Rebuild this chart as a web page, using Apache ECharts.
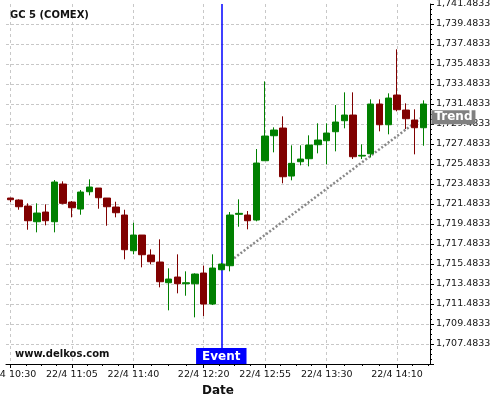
<!DOCTYPE html>
<html>
<head>
<meta charset="utf-8">
<script src="https://cdn.jsdelivr.net/npm/echarts@6/dist/echarts.min.js"></script>
<style>
html,body{margin:0;padding:0;background:#fff;}
#chart{width:500px;height:400px;}
</style>
</head>
<body>
<div id="chart"></div>
<script>
// ---- data ----
const times = [
 '22/4 10:30','22/4 10:35','22/4 10:40','22/4 10:45','22/4 10:50','22/4 10:55',
 '22/4 11:00','22/4 11:05','22/4 11:10','22/4 11:15','22/4 11:20','22/4 11:25',
 '22/4 11:30','22/4 11:35','22/4 11:40','22/4 11:45','22/4 11:50','22/4 11:55',
 '22/4 12:00','22/4 12:05','22/4 12:10','22/4 12:15','22/4 12:20','22/4 12:25',
 '22/4 12:30','22/4 12:35','22/4 12:40','22/4 12:45','22/4 12:50','22/4 12:55',
 '22/4 13:00','22/4 13:05','22/4 13:10','22/4 13:15','22/4 13:20','22/4 13:25',
 '22/4 13:30','22/4 13:35','22/4 13:40','22/4 13:45','22/4 13:50','22/4 13:55',
 '22/4 14:00','22/4 14:05','22/4 14:10','22/4 14:15','22/4 14:20','22/4 14:25'
];
const openV = [1722.08,1721.88,1721.28,1719.71,1720.68,1719.71,1723.48,1721.68,1720.98,1722.71,1723.08,1722.08,
 1721.18,1720.38,1716.81,1718.38,1716.38,1715.68,1713.61,1714.18,1713.51,1713.51,1714.58,1711.48,
 1714.91,1715.31,1720.45,1720.38,1719.88,1725.81,1728.31,1729.08,1724.28,1725.71,1726.01,1727.41,
 1727.81,1728.71,1729.81,1730.38,1726.28,1726.51,1731.48,1729.41,1732.38,1730.88,1729.88,1729.11];
const closeV = [1721.91,1721.21,1719.81,1720.58,1719.81,1723.68,1721.55,1721.11,1722.68,1723.18,1722.11,1721.21,
 1720.61,1716.91,1718.38,1716.41,1715.71,1713.71,1713.98,1713.51,1713.61,1714.48,1711.48,1715.08,
 1715.48,1720.38,1720.55,1719.81,1725.58,1728.28,1728.88,1724.21,1725.55,1725.98,1727.38,1727.88,
 1728.58,1729.68,1730.38,1726.21,1726.35,1731.48,1729.41,1732.08,1730.91,1730.01,1729.11,1731.48];
const lowV = [1721.68,1720.91,1718.91,1718.65,1719.35,1718.65,1721.45,1720.15,1720.41,1722.35,1721.01,1719.31,
 1720.15,1715.95,1716.45,1715.15,1715.45,1713.15,1710.85,1712.55,1712.31,1710.15,1710.28,1711.38,
 1714.85,1714.75,1719.21,1718.95,1719.75,1725.81,1726.65,1723.55,1723.85,1725.35,1725.25,1726.55,
 1725.45,1726.75,1729.05,1725.98,1725.98,1726.15,1728.75,1728.45,1730.75,1728.98,1726.45,1727.31];
const highV = [1722.11,1721.95,1721.55,1721.55,1721.45,1723.88,1723.75,1721.78,1722.88,1723.95,1723.08,1722.08,
 1721.71,1720.91,1719.61,1718.38,1716.95,1717.95,1715.05,1716.45,1714.75,1714.55,1715.33,1716.45,
 1715.60,1720.68,1721.95,1720.78,1726.98,1733.75,1729.15,1730.25,1727.35,1727.35,1728.35,1729.55,
 1729.55,1731.38,1732.65,1732.65,1727.45,1731.95,1731.95,1732.55,1736.95,1731.55,1730.95,1731.85];
const xTickLabels = ['22/4 10:30','22/4 11:05','22/4 11:40','22/4 12:20','22/4 12:55','22/4 13:30','22/4 14:10'];
const yMin = 1705.4833, yMax = 1741.4833, yStep = 2;
const eventTime = '22/4 12:30';
const trendStart = ['22/4 12:30', 1715.11];
const trendEnd = ['22/4 14:25', 1730.25];
const titleText = 'GC 5 (COMEX)';
const watermark = 'www.delkos.com';

// ---- build ----
const FONT = 'DejaVu Sans';
const idx = t => times.indexOf(t);
const majorIdx = xTickLabels.map(idx);
const minorIdx = [];
for (let k = 0; k < majorIdx.length; k++) {
  const a = majorIdx[k];
  const b = k + 1 < majorIdx.length ? majorIdx[k + 1] : a + (majorIdx[1] - majorIdx[0]);
  for (let q = 1; q < 4; q++) minorIdx.push(a + (b - a) * q / 4);
}
const ohlc = times.map((t, i) => [i, openV[i], closeV[i], lowV[i], highV[i]]);
function fmtY(v) {
  const s = Number(v).toFixed(4);
  const [ip, dp] = s.split('.');
  return ip.replace(/\B(?=(\d{3})+(?!\d))/g, ',') + '.' + dp;
}
const xMin = -0.5, xMax = times.length - 0.25;

const chart = echarts.init(document.getElementById('chart'), null, {renderer: 'canvas'});
chart.setOption({
  animation: false,
  backgroundColor: '#fff',
  textStyle: {fontFamily: FONT},
  title: {
    text: titleText, left: 10, top: 10, padding: 0,
    textStyle: {fontFamily: FONT, fontSize: 10, fontWeight: 'bold', color: '#111'}
  },
  graphic: [{
    type: 'text', left: 15, top: 349, z: 50,
    style: {text: watermark, font: 'bold 10px "DejaVu Sans"', fill: '#111'}
  }],
  grid: {left: 6, right: 70, top: 4, bottom: 36, containLabel: false, outerBoundsMode: 'none'},
  xAxis: [{
    type: 'value', min: xMin, max: xMax, position: 'bottom',
    axisLine: {show: true, onZero: false, lineStyle: {color: '#000', width: 1}},
    axisTick: {show: true, customValues: majorIdx, length: 4, lineStyle: {color: '#000'}},
    axisLabel: {
      customValues: majorIdx, margin: 6, fontSize: 9.5, color: '#111', fontFamily: FONT,
      formatter: v => times[Math.round(v)] || ''
    },
    splitLine: {show: true, lineStyle: {color: '#c8c8c8', type: [3, 3], width: 1}},
    name: 'Date', nameLocation: 'middle', nameGap: 18,
    nameTextStyle: {fontFamily: FONT, fontSize: 12, fontWeight: 'bold', color: '#111'}
  }, {
    type: 'value', min: xMin, max: xMax, position: 'bottom', gridIndex: 0,
    axisLine: {show: false, onZero: false},
    axisTick: {show: true, customValues: minorIdx, length: 2, lineStyle: {color: '#000'}},
    axisLabel: {show: false},
    splitLine: {show: false}
  }],
  yAxis: {
    type: 'value', position: 'right', min: yMin, max: yMax,
    interval: yStep + 1e-10, scale: true,
    axisLine: {show: true, onZero: false, lineStyle: {color: '#000', width: 1}},
    axisTick: {show: true, length: 4, inside: false, lineStyle: {color: '#000'}},
    minorTick: {show: true, splitNumber: 4, length: 2, lineStyle: {color: '#000'}},
    axisLabel: {
      margin: 6, fontSize: 9.5, color: '#111', fontFamily: FONT,
      showMinLabel: false, showMaxLabel: true, formatter: fmtY
    },
    splitLine: {show: true, showMinLine: false, showMaxLine: false,
      lineStyle: {color: '#c8c8c8', type: [3, 2], width: 1}}
  },
  series: [{
    type: 'candlestick',
    xAxisIndex: 0, yAxisIndex: 0,
    z: 5,
    data: ohlc,
    encode: {x: 0, y: [1, 2, 3, 4]},
    barWidth: 7,
    itemStyle: {color: '#008000', color0: '#800000', borderColor: '#008000', borderColor0: '#800000', borderWidth: 1},
    markLine: {
      silent: true, symbol: 'none', animation: false,
      data: [
        {xAxis: idx(eventTime), lineStyle: {color: '#0000ff', width: 1.5, type: 'solid', opacity: 1}, label: {show: false}},
        [
          {coord: [idx(trendStart[0]), trendStart[1]], lineStyle: {color: '#888', width: 2.5, type: [2, 2]}, label: {show: false}},
          {coord: [idx(trendEnd[0]), trendEnd[1]]}
        ]
      ]
    },
    markPoint: {
      silent: true, animation: false, symbol: 'rect', symbolSize: 0,
      data: [
        {coord: [idx(eventTime), yMin], label: {
          show: true, position: 'top', distance: 0, formatter: 'Event',
          color: '#fff', backgroundColor: '#0000ff', fontFamily: FONT, fontSize: 12,
          fontWeight: 'bold', lineHeight: 13, padding: [2, 6, 1, 6]
        }},
        {coord: [idx(trendEnd[0]), trendEnd[1]], label: {
          show: true, position: 'right', distance: 8, formatter: 'Trend',
          color: '#fff', backgroundColor: '#808080', fontFamily: FONT, fontSize: 12,
          fontWeight: 'bold', lineHeight: 13, padding: [1, 3, 0, 3], offset: [0, 1]
        }}
      ]
    }
  }]
});
</script>
</body>
</html>
